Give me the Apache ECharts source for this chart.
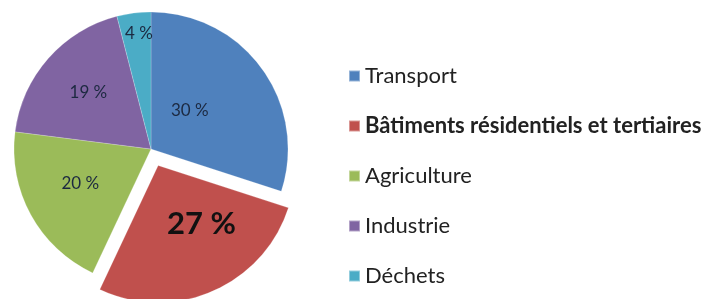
<!DOCTYPE html>
<html>
<head>
<meta charset="utf-8">
<script src="https://cdn.jsdelivr.net/npm/echarts@6/dist/echarts.min.js"></script>
<style>
  html, body { margin: 0; padding: 0; background: #fff; }
  #chart { width: 707px; height: 299px; }
</style>
</head>
<body>
<div id="chart"></div>
<script>
// émissions par secteur, en %
let sectors = ['Transport', 'Bâtiments résidentiels et tertiaires', 'Agriculture', 'Industrie', 'Déchets']
let shares = [30, 27, 20, 19, 4]
let colors = ['#4F81BD', '#C0504D', '#9BBB59', '#8064A2', '#4BACC6']
let highlighted = 'Bâtiments résidentiels et tertiaires'

// small nudges so the labels sit where Excel put them
let labelNudge = [[-19, 4], [15, -7], [-8, 0], [-9, -9], [-3, -45]]

let myChart = echarts.init(document.getElementById('chart'))

let options = {
  color: colors,
  legend: {
    orient: 'vertical',
    left: 343,
    top: 59,
    itemWidth: 11,
    itemHeight: 11,
    itemGap: 26,
    icon: 'rect',
    selectedMode: false,
    textStyle: {
      color: '#222',
      fontSize: 22,
      lineHeight: 24,
      fontFamily: 'Lato'
    },
    data: sectors.map(name => ({
      name: name,
      textStyle: name === highlighted ? { fontWeight: 'bold' } : {}
    }))
  },
  series: [
    {
      type: 'pie',
      center: [151, 149],
      radius: [0, 137],
      startAngle: 90,
      selectedMode: 'single',
      selectedOffset: 18,
      animation: false,
      emphasis: { disabled: true },
      itemStyle: {
        borderColor: 'rgba(255,255,255,0.4)',
        borderWidth: 0.5
      },
      label: {
        position: 'inside',
        formatter: '{c} %',
        color: '#1c2940',
        fontSize: 17,
        fontFamily: 'Lato'
      },
      labelLayout: function (params) {
        let n = labelNudge[params.dataIndex]
        return { dx: n[0], dy: n[1] }
      },
      data: sectors.map((name, i) => {
        let item = { name: name, value: shares[i] }
        if (name === highlighted) {
          item.selected = true
          item.label = { fontSize: 31, fontWeight: 'bold', color: '#111' }
        }
        return item
      })
    }
  ]
}

myChart.setOption(options)
</script>
</body>
</html>
